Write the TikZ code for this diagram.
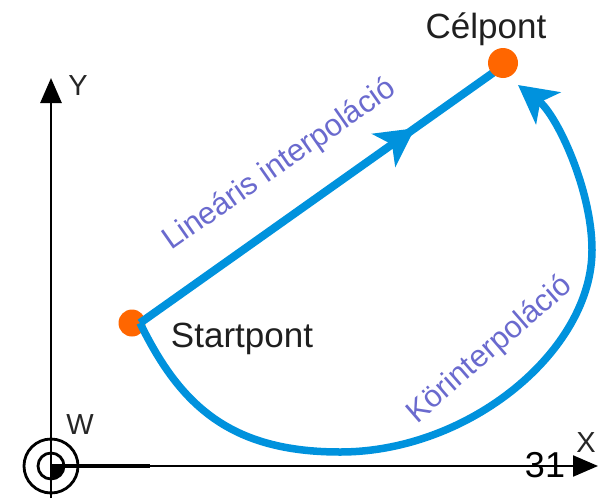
\documentclass[tikz,border=0pt]{standalone}
\usepackage{fontspec}
\setmainfont{Liberation Sans}
\usetikzlibrary{arrows.meta,decorations.markings}

\definecolor{pathblue}{RGB}{0,146,221}
\definecolor{dotorange}{RGB}{255,102,0}
\definecolor{labelviolet}{RGB}{106,106,206}

\begin{document}
\begin{tikzpicture}[x=1pt,y=-1pt,
    axis/.style={line width=2.8pt,-{Triangle[length=25pt,width=21pt]}},
    dot/.style={circle,fill=dotorange,inner sep=0pt},
    move/.style={line width=8pt,draw=pathblue},
    movetip/.style={-{Stealth[length=38pt,width=40pt,inset=10pt]}},
    pointlabel/.style={font=\fontsize{35}{40}\selectfont,text=black!88,inner sep=0pt},
    axislabel/.style={font=\fontsize{29}{34}\selectfont,text=black!85,inner sep=0pt},
    movelabel/.style={font=\fontsize{31}{36}\selectfont,text=labelviolet,inner sep=0pt}
]
\useasboundingbox (0,0) rectangle (607,498);

% coordinate system
\coordinate (O) at (51,466);
\coordinate (ybot) at (51,498);
\coordinate (ytop) at (51,78);
\coordinate (xend) at (598,466);
\coordinate (xthick) at (150,466);
\draw[axis] (ybot) -- (ytop);
\draw[axis,line width=2.2pt] (O) -- (xend);
\draw[line width=4.5pt] (O) -- (xthick);
\draw[line width=2.8pt] (O) circle[radius=27pt];
\draw[line width=2.8pt] (O) circle[radius=13pt];
\fill (O) -- ++(12pt,0pt) arc[start angle=0,end angle=-90,radius=12pt] -- cycle;

\node[axislabel] (ylab) at (78,86) {Y};
\node[axislabel] (wlab) at (80,425) {W};
\node[axislabel] (xlab) at (586,443) {X};
\node[font=\fontsize{36}{40}\selectfont,inner sep=0pt] (num) at (545,465) {31};

% points
\node[dot,minimum size=27pt] (startdot) at (132,323) {};
\coordinate (S) at (140,323);
\coordinate (T) at (497,70);
\coordinate (B) at (340,452);
\coordinate (R) at (592,250);
\coordinate (Tarc) at (518,85);

% linear move
\draw[move,postaction={decorate},
      decoration={markings,mark=at position 0.77 with {\arrow{Stealth[length=38pt,width=40pt,inset=10pt]}}}]
      (S) -- (T);
% circular move
\draw[move,line width=7.5pt,movetip]
      (S) .. controls (180,405) and (230,452) .. (B)
          .. controls (470,452) and (592,350) .. (R)
          .. controls (592,190) and (557,115) .. (Tarc);

\node[dot,minimum size=30pt] (targetdot) at (503,63) {};

\node[pointlabel,anchor=base] (startlab) at (242,347) {Startpont};
\node[pointlabel,anchor=base] (targetlab) at (486,38) {Célpont};
\node[movelabel,rotate=35] (linlab) at (280,165) {Lineáris interpoláció};
\node[movelabel,rotate=41] (circlab) at (490,350) {Körinterpoláció};
\end{tikzpicture}
\end{document}
